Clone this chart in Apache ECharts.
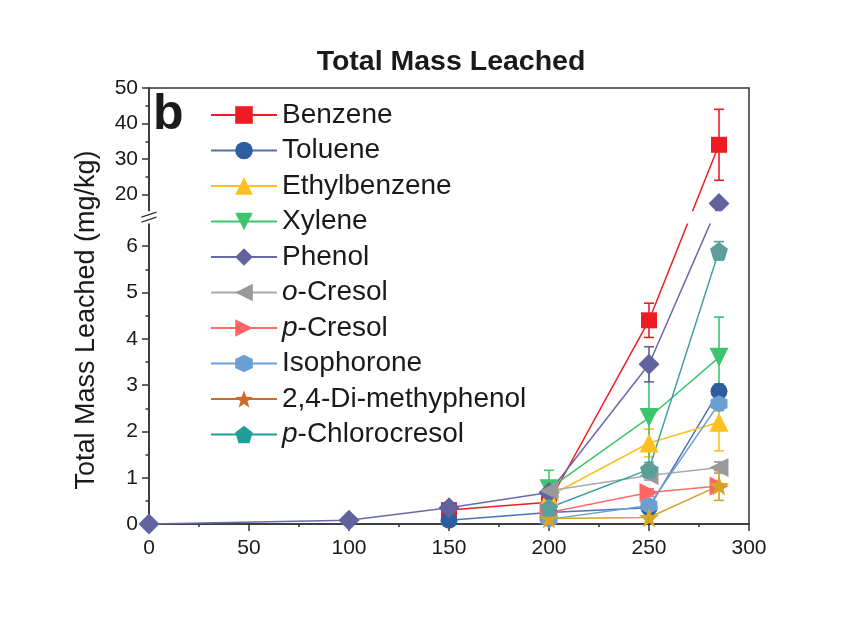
<!DOCTYPE html>
<html>
<head>
<meta charset="utf-8">
<script src="https://cdn.jsdelivr.net/npm/echarts@6/dist/echarts.min.js"></script>
<style>
  html, body { margin: 0; padding: 0; background: #fff; }
  #chart { width: 847px; height: 632px; }
</style>
</head>
<body>
<div id="chart"></div>
<script>
// x positions of the samples
const xValues = [0, 100, 150, 200, 250, 285];

// values (mg/kg), null = not plotted
const benzene      = [null, null, 0.30, 0.47, 4.40, 34.0];
const toluene      = [null, null, 0.08, 0.25, 0.35, 2.87];
const ethylbenzene = [null, null, null, 0.60, 1.75, 2.20];
const xylene       = [null, null, null, 0.76, 2.30, 3.60];
const phenol       = [0.00, 0.08, 0.35, 0.68, 3.45, 17.5];
const oCresol      = [null, null, null, 0.72, 1.05, 1.22];
const pCresol      = [null, null, null, 0.25, 0.68, 0.82];
const isophorone   = [null, null, null, 0.10, 0.40, 2.60];
const dimethyl     = [null, null, null, 0.12, 0.14, 0.83];
const pChloro      = [null, null, null, 0.35, 1.18, 5.90];

// error bar half-widths
const benzeneErr      = [null, null, 0.03, 0.05, 0.37, 10.0];
const tolueneErr      = [null, null, 0.02, 0.05, 0.08, 0.15];
const ethylbenzeneErr = [null, null, null, 0.05, 0.30, 0.62];
const xyleneErr       = [null, null, null, 0.40, 1.05, 0.87];
const phenolErr       = [0, 0, 0.03, 0.06, 0.38, 0];
const oCresolErr      = [null, null, null, 0.05, 0.10, 0.12];
const pCresolErr      = [null, null, null, 0.04, 0.08, 0.05];
const isophoroneErr   = [null, null, null, 0.03, 0.10, 0.15];
const dimethylErr     = [null, null, null, 0.03, 0.03, 0.32];
const pChloroErr      = [null, null, null, 0.05, 0.15, 0.20];

const yMajorTicks = [0, 1, 2, 3, 4, 5, 6, 20, 30, 40, 50];
const yMinorTicks = [0.5, 1.5, 2.5, 3.5, 4.5, 5.5, 15, 25, 35, 45];

// broken axis: 0..6.5 linear, then 15..50 compressed
const BREAK_LO = 6.5, BREAK_HI = 15, TOP_START = 6.734, TOP_SCALE = 0.0767;
function toAxis(v) {
  return v <= BREAK_LO ? v : TOP_START + (v - BREAK_HI) * TOP_SCALE;
}
function fromAxis(d) {
  return d <= BREAK_LO + 0.01 ? d : BREAK_HI + (d - TOP_START) / TOP_SCALE;
}
const yMax = toAxis(50);

const FONT = "Arial, 'Liberation Sans', sans-serif";
const hexagon = 'path://M0,-10 L8.66,-5 L8.66,5 L0,10 L-8.66,5 L-8.66,-5 Z';
const star = 'path://M0,-10 L2.35,-3.24 L9.51,-3.09 L3.80,1.24 L5.88,8.09 L0,4 L-5.88,8.09 L-3.80,1.24 L-9.51,-3.09 L-2.35,-3.24 Z';
const pentagon = 'path://M0,-10 L9.51,-3.09 L5.88,8.09 L-5.88,8.09 L-9.51,-3.09 Z';

const defs = [
  { name: 'Benzene', values: benzene, err: benzeneErr, color: '#ee1c24', line: '#ee1c24', symbol: 'rect', size: 16 },
  { name: 'Toluene', values: toluene, err: tolueneErr, color: '#2e5e9e', line: '#4a72b8', symbol: 'circle', size: 17 },
  { name: 'Ethylbenzene', values: ethylbenzene, err: ethylbenzeneErr, color: '#fdc01f', line: '#fdc01f', symbol: 'triangle', size: 19 },
  { name: 'Xylene', values: xylene, err: xyleneErr, color: '#3dc46c', line: '#3dc46c', symbol: 'triangle', rotate: 180, size: 19 },
  { name: 'Phenol', values: phenol, err: phenolErr, color: '#62629e', line: '#6a6aaa', symbol: 'diamond', size: 21 },
  { name: 'o-Cresol', values: oCresol, err: oCresolErr, color: '#999999', line: '#aaaaaa', symbol: 'triangle', rotate: 90, size: 19 },
  { name: 'p-Cresol', values: pCresol, err: pCresolErr, color: '#ff6666', line: '#ff6b6b', symbol: 'triangle', rotate: -90, size: 19 },
  { name: 'Isophorone', values: isophorone, err: isophoroneErr, color: '#6a9fd4', line: '#6a9fd4', symbol: hexagon, size: 17 },
  { name: '2,4-Di-methyphenol', values: dimethyl, err: dimethylErr, color: '#d4a524', line: '#d4a524', symbol: star, size: 20, legendColor: '#cc6a28' },
  { name: 'p-Chlorocresol', values: pChloro, err: pChloroErr, color: '#5c9e9a', line: '#3a9e9a', symbol: pentagon, size: 18, legendColor: '#1f9e99' }
];

const series = [];
defs.forEach(function (d) {
  const pts = [];
  const bars = [];
  xValues.forEach(function (x, i) {
    if (d.values[i] == null) return;
    pts.push([x, toAxis(d.values[i])]);
    if (d.err[i]) {
      bars.push([x, toAxis(Math.max(0, d.values[i] - d.err[i])), toAxis(d.values[i] + d.err[i])]);
    }
  });
  series.push({
    name: d.name + ' err',
    type: 'custom',
    z: 1,
    silent: true,
    encode: { x: 0, y: [1, 2] },
    data: bars,
    renderItem: function (params, api) {
      const lo = api.coord([api.value(0), api.value(1)]);
      const hi = api.coord([api.value(0), api.value(2)]);
      const w = 5;
      const st = { stroke: d.color, lineWidth: 1.6 };
      return {
        type: 'group',
        children: [
          { type: 'line', shape: { x1: lo[0], y1: lo[1], x2: hi[0], y2: hi[1] }, style: st },
          { type: 'line', shape: { x1: lo[0] - w, y1: lo[1], x2: lo[0] + w, y2: lo[1] }, style: st },
          { type: 'line', shape: { x1: hi[0] - w, y1: hi[1], x2: hi[0] + w, y2: hi[1] }, style: st }
        ]
      };
    }
  });
  series.push({
    name: d.name,
    type: 'line',
    z: 2,
    data: pts,
    symbol: d.symbol,
    symbolSize: d.size,
    symbolRotate: d.rotate || 0,
    showAllSymbol: true,
    lineStyle: { color: d.line, width: 1.5 },
    itemStyle: { color: d.color },
    emphasis: { disabled: true },
    animation: false
  });
});

const legendData = defs.map(function (d) {
  const item = { name: d.name };
  if (d.legendColor) item.itemStyle = { color: d.legendColor };
  if (d.legendColor) item.lineStyle = { color: d.legendColor };
  return item;
});

const chart = echarts.init(document.getElementById('chart'));
chart.setOption({
  animation: false,
  backgroundColor: '#fff',
  title: [{
    text: 'Total Mass Leached',
    left: 446,
    top: 43,
    textAlign: 'center',
    textStyle: { fontFamily: FONT, fontSize: 28.5, fontWeight: 'bold', color: '#1a1a1a' }
  }, {
    text: 'b',
    left: 148,
    top: 85,
    textStyle: { fontFamily: FONT, fontSize: 50, fontWeight: 'bold', color: '#1a1a1a' }
  }],
  legend: {
    data: legendData,
    z: 10,
    orient: 'vertical',
    left: 205,
    top: 96,
    itemWidth: 66,
    itemHeight: 22,
    itemGap: 7.5,
    textStyle: {
      fontFamily: FONT, fontSize: 28, color: '#1a1a1a', lineHeight: 28,
      rich: { i: { fontFamily: FONT, fontSize: 28, fontStyle: 'italic', color: '#1a1a1a' } }
    },
    formatter: function (name) {
      if (name === 'o-Cresol') return '{i|o}-Cresol';
      if (name === 'p-Cresol') return '{i|p}-Cresol';
      if (name === 'p-Chlorocresol') return '{i|p}-Chlorocresol';
      return name;
    }
  },
  grid: {
    left: 149, right: 98, top: 88, bottom: 108,
    show: true, borderColor: '#333', borderWidth: 1.5, backgroundColor: 'transparent'
  },
  xAxis: {
    type: 'value',
    min: 0, max: 300, interval: 50,
    axisLine: { onZero: false, lineStyle: { color: '#333', width: 1.5 } },
    axisTick: { length: 7, lineStyle: { color: '#333', width: 1.5 } },
    minorTick: { show: true, splitNumber: 2, length: 3, lineStyle: { color: '#333', width: 1.5 } },
    axisLabel: { fontFamily: FONT, fontSize: 21, color: '#1a1a1a', margin: 14 },
    splitLine: { show: false }
  },
  yAxis: [{
    type: 'value',
    position: 'left',
    min: 0, max: yMax,
    name: 'Total Mass Leached (mg/kg)',
    nameLocation: 'middle',
    nameGap: 49,
    nameTextStyle: { fontFamily: FONT, fontSize: 27, color: '#1a1a1a', padding: [0, 0, 0, -28] },
    axisLine: { onZero: false, lineStyle: { color: '#333', width: 1.5 } },
    axisTick: { length: 7, lineStyle: { color: '#333', width: 1.5 }, customValues: yMajorTicks.map(toAxis) },
    axisLabel: {
      fontFamily: FONT, fontSize: 21, color: '#1a1a1a', margin: 11,
      customValues: yMajorTicks.map(toAxis),
      formatter: function (v) { return String(Math.round(fromAxis(v))); }
    },
    splitLine: { show: false }
  }, {
    type: 'value',
    position: 'left',
    offset: 0,
    min: 0, max: yMax,
    axisLine: { show: false },
    axisTick: { length: 3.5, lineStyle: { color: '#333', width: 1.5 }, customValues: yMinorTicks.map(toAxis) },
    axisLabel: { show: false, customValues: [] },
    splitLine: { show: false }
  }],
  series: series
});

// white band + break marks across the gap of the broken axis
const pLo = chart.convertToPixel({ gridIndex: 0 }, [0, BREAK_LO]);
const pHi = chart.convertToPixel({ gridIndex: 0 }, [300, TOP_START]);
const ax = pLo[0];
const yc = (pLo[1] + pHi[1]) / 2;
chart.setOption({
  graphic: [{
    type: 'rect',
    z: 3,
    shape: { x: ax - 4, y: pHi[1] - 1, width: pHi[0] - ax + 3, height: pLo[1] - pHi[1] + 1.5 },
    style: { fill: '#fff' }
  }, {
    type: 'line',
    z: 3,
    shape: { x1: ax - 7.5, y1: yc - 0.5, x2: ax + 7.5, y2: yc - 5.5 },
    style: { stroke: '#333', lineWidth: 1.3 }
  }, {
    type: 'line',
    z: 3,
    shape: { x1: ax - 7.5, y1: yc + 4.5, x2: ax + 7.5, y2: yc - 0.5 },
    style: { stroke: '#333', lineWidth: 1.3 }
  }]
});
</script>
</body>
</html>
